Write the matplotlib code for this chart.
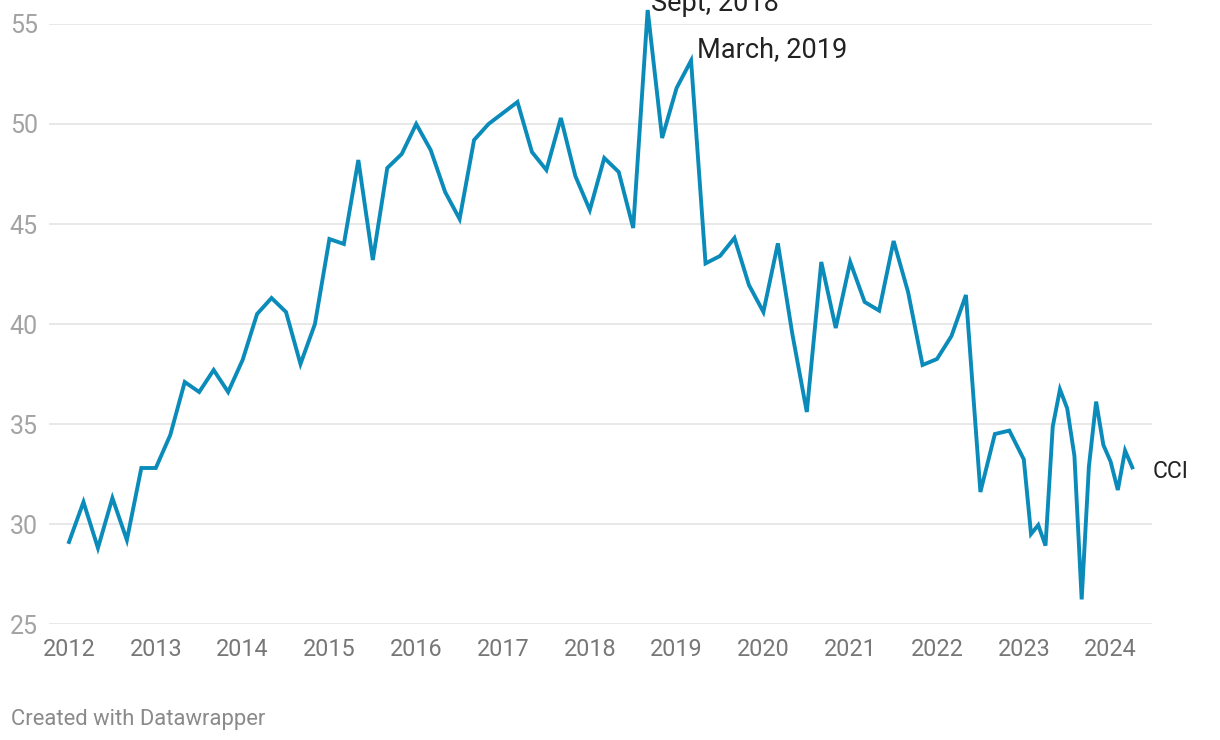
import matplotlib
matplotlib.use("Agg")
import matplotlib.pyplot as plt

plt.rcParams['font.family'] = ['Roboto', 'DejaVu Sans']

# -- data: month index counted from Jan 2012, and CCI value
months = [0, 2, 4, 6, 8, 10,
          12, 14, 16, 18, 20, 22,
          24, 26, 28, 30, 32, 34,
          36, 38, 40, 42, 44, 46,
          48, 50, 52, 54, 56, 58,
          60, 62, 64, 66, 68, 70,
          72, 74, 76, 78, 80, 82,
          84, 86, 88, 90, 92, 94,
          96, 98, 100, 102, 104, 106,
          108, 110, 112, 114, 116, 118,
          120, 122, 124, 126, 128, 130,
          132, 133, 134, 135, 136, 137, 138, 139, 140, 141, 142, 143,
          144, 145, 146, 147]
cci = [29.1, 31.1, 28.8, 31.3, 29.2, 32.8,
       32.8, 34.45, 37.1, 36.6, 37.7, 36.6,
       38.2, 40.5, 41.3, 40.6, 38.0, 40.0,
       44.25, 44.0, 48.2, 43.2, 47.8, 48.5,
       50.0, 48.7, 46.6, 45.25, 49.2, 50.0,
       50.55, 51.1, 48.6, 47.7, 50.3, 47.4,
       45.7, 48.3, 47.6, 44.8, 55.7, 49.3,
       51.8, 53.17, 43.03, 43.4, 44.3, 41.95,
       40.6, 44.03, 39.5, 35.6, 43.1, 39.8,
       43.1, 41.1, 40.67, 44.15, 41.6, 37.95,
       38.25, 39.4, 41.45, 31.6, 34.5, 34.67,
       33.23, 29.5, 29.95, 28.92, 34.87, 36.73, 35.78, 33.4, 26.23, 32.87, 36.12, 33.95,
       33.12, 31.7, 33.67, 32.83]
years = [2012 + m / 12 for m in months]

year_ticks = list(range(2012, 2025))
y_ticks = [25, 30, 35, 40, 45, 50, 55]

notes = [("Sept, 2018", 80, (3, -1)), ("March, 2019", 86, (6, 4))]

W, H = 1220, 740
fig = plt.figure(figsize=(W / 100, H / 100), dpi=100)
ax = fig.add_axes([49 / W, (H - 624) / H, (1152 - 49) / W, 600 / H])

ax.plot(years, cci, color='#0a8bba', lw=2.8, clip_on=False,
        solid_joinstyle='miter', zorder=3)

ax.set_xlim(2012 - 20 / 86.8, 2012 + (1152 - 69) / 86.8)
ax.set_ylim(25, 55)
ax.set_yticks(y_ticks)
ax.set_xticks(year_ticks)
ax.set_xticklabels([str(y) for y in year_ticks])
ax.grid(axis='y', color='#e2e2e2', lw=1.1)
ax.set_axisbelow(True)
for s in ax.spines.values():
    s.set_visible(False)
ax.tick_params(axis='both', length=0)
ax.tick_params(axis='x', labelsize=16.8, labelcolor='#777777', pad=10)
ax.tick_params(axis='y', labelsize=18, labelcolor='#a3a3a3', pad=8)

# annotations
for txt, m, (dx, dy) in notes:
    i = months.index(m)
    ax.annotate(txt, (years[i], cci[i]), xytext=(dx, dy),
                textcoords='offset pixels', ha='left', va='baseline',
                fontsize=19.5, color='#222222', annotation_clip=False)

ax.annotate("CCI", (years[-1], cci[-1]), xytext=(20, -4),
            textcoords='offset pixels', ha='left', va='center',
            fontsize=16.5, color='#222222', annotation_clip=False)

fig.text(11 / W, 1 - 719 / H, "Created with Datawrapper", ha='left', va='center',
         fontsize=15.8, color='#8a8a8a')

fig.savefig("out.png", dpi=100, facecolor='white')
